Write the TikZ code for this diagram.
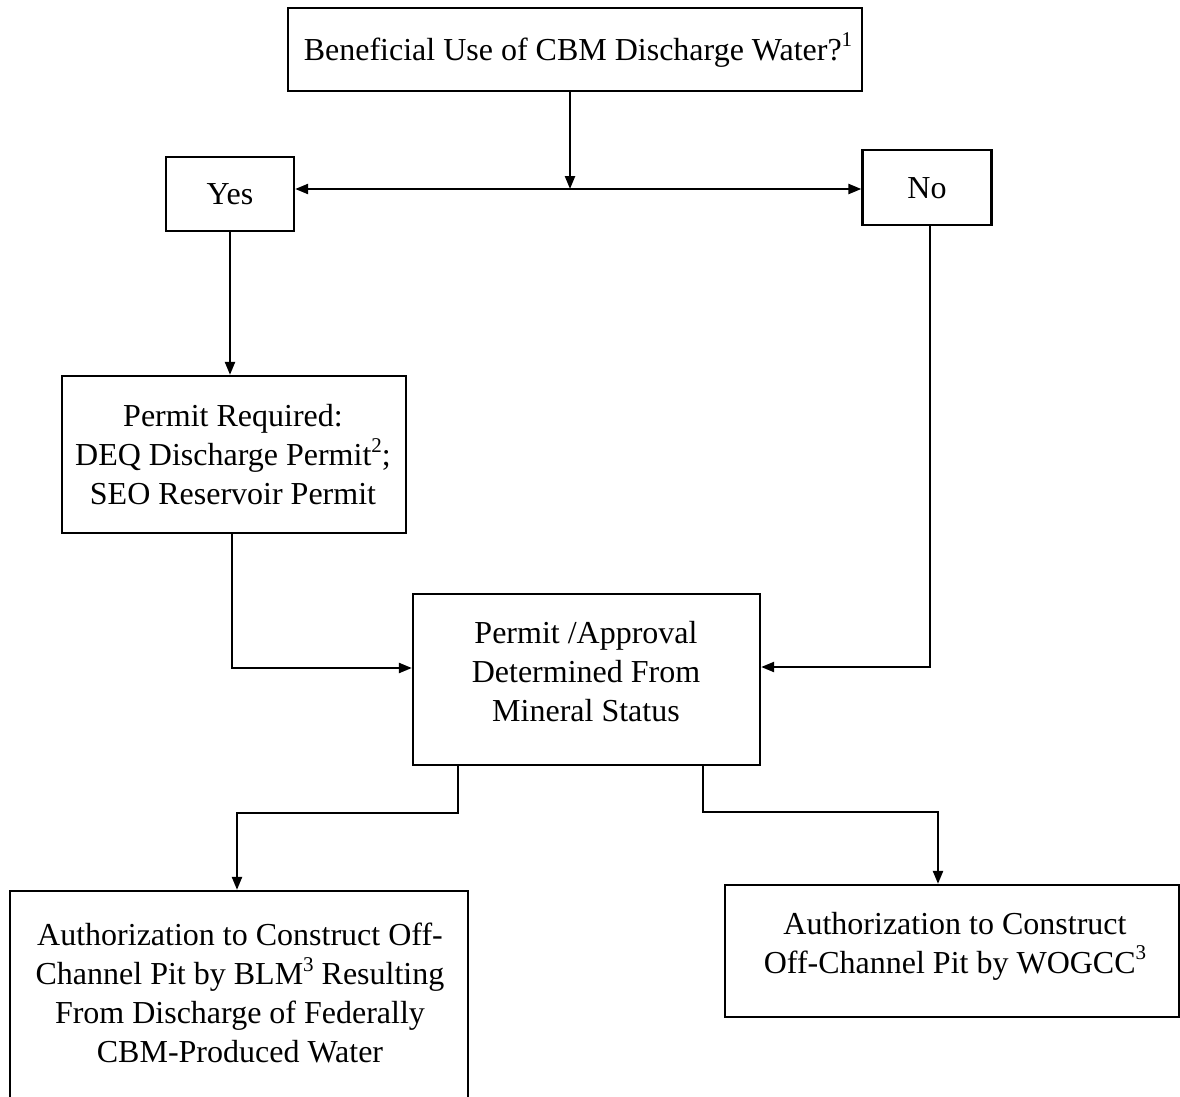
\documentclass[tikz,border=0pt]{standalone}
\usepackage{fontspec}
\setmainfont{Liberation Serif}
\usetikzlibrary{arrows.meta}
\newcommand{\mysup}[1]{\raisebox{0.42em}{\fontsize{21}{21}\selectfont #1}}
\begin{document}
\begin{tikzpicture}[x=1pt,y=-1pt,
  box/.style={draw, line width=2.3pt, inner sep=0pt},
  txt/.style={align=center, inner sep=0pt, font=\fontsize{32}{39}\selectfont},
  arr/.style={line width=2.3pt, -{Triangle[length=13pt,width=10pt]}},
  darr/.style={line width=2.3pt, {Triangle[length=13pt,width=10pt]}-{Triangle[length=13pt,width=10pt]}}]
\useasboundingbox (0,0) rectangle (1180,1097);
\fill[white] (0,0) rectangle (1180,1097);
\clip (0,0) rectangle (1180,1097);

% boxes
\node[box, minimum width=574pt, minimum height=83pt] (top) at (575,49.5) {};
\node[box, minimum width=128pt, minimum height=74pt] (yes) at (230,194) {};
\node[box, minimum width=129pt, minimum height=75pt] (no) at (927,187.5) {};
\node[box, minimum width=344pt, minimum height=157pt] (req) at (234,454.5) {};
\node[box, minimum width=347pt, minimum height=171pt] (det) at (586.5,679.5) {};
\node[box, minimum width=458pt, minimum height=230pt] (bl) at (239,1006) {};
\node[box, minimum width=454pt, minimum height=132pt] (br) at (952,951) {};

% texts
\node[txt] (top-t) at (578,50) {Beneficial Use of CBM Discharge Water?\mysup{1}};
\node[txt] (yes-t) at (230,194) {Yes};
\node[txt] (no-t) at (927,188) {No};
\node[txt] (req-t) at (233,455) {Permit Required:\\DEQ Discharge Permit\mysup{2};\\SEO Reservoir Permit};
\node[txt] (det-t) at (586,672) {Permit /Approval\\Determined From\\Mineral Status};
\node[txt] (bl-t) at (240,993) {Authorization to Construct Off-\\Channel Pit by BLM\mysup{3} Resulting\\From Discharge of Federally\\CBM-Produced Water};
\node[txt] (br-t) at (955,946) {Authorization to Construct\\Off-Channel Pit by WOGCC\mysup{3}};

% bend points
\coordinate (j) at (570,189);
\coordinate (ra) at (232,668);
\coordinate (na) at (930,667);
\coordinate (l1) at (458,813);
\coordinate (l2) at (237,813);
\coordinate (r1) at (703,812);
\coordinate (r2) at (938,812);

% connectors
\draw[arr] (top.south -| j) -- (j);
\draw[darr] (yes.east |- j) -- (no.west |- j);
\draw[arr] (yes.south) -- (yes.south |- req.north);
\draw[arr] (req.south -| ra) -- (ra) -- (ra -| det.west);
\draw[arr] (no.south -| na) -- (na) -- (na -| det.east);
\draw[arr] (det.south -| l1) -- (l1) -- (l2) -- (l2 |- bl.north);
\draw[arr] (det.south -| r1) -- (r1) -- (r2) -- (r2 |- br.north);
\end{tikzpicture}
\end{document}
